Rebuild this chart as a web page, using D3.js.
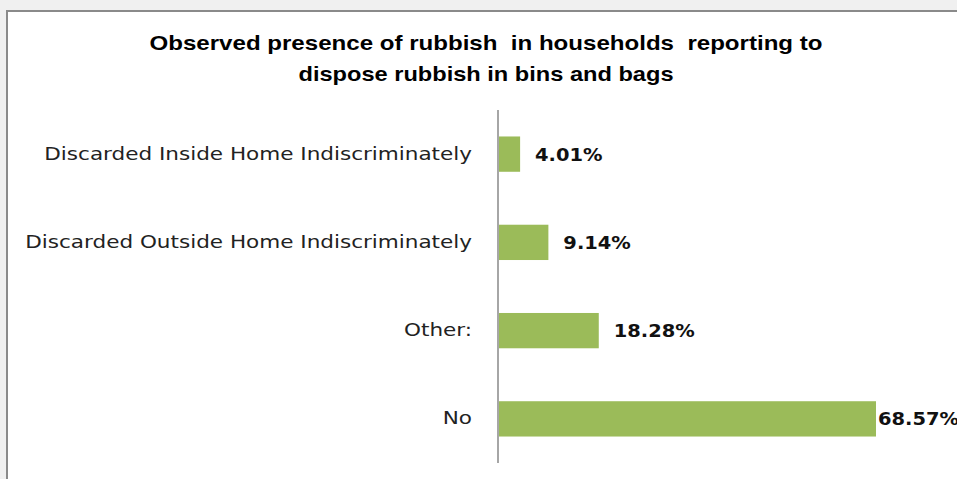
<!DOCTYPE html>
<html>
<head>
<meta charset="utf-8">
<script src="https://cdn.jsdelivr.net/npm/d3@7"></script>
<style>
  html, body { margin: 0; padding: 0; background: #f0f0f0; overflow: hidden; }
  svg { display: block; }
</style>
</head>
<body>
<svg id="chart" width="957" height="479"></svg>
<script>
// Categories, top to bottom, and their shares (%)
const categories = [
  "Discarded Inside Home Indiscriminately",
  "Discarded Outside Home Indiscriminately",
  "Other:",
  "No"
];
const values = [4.01, 9.14, 18.28, 68.57];
const valueLabels = ["4.01%", "9.14%", "18.28%", "68.57%"];
const titleLines = [
  "Observed presence of rubbish  in households  reporting to",
  "dispose rubbish in bins and bags"
];

const W = 957, H = 479;
const svg = d3.select("#chart");

// widen text horizontally by factor k
function widen(sel, k) {
  sel.each(function () {
    const w = this.getComputedTextLength();
    d3.select(this).attr("textLength", w * k).attr("lengthAdjust", "spacingAndGlyphs");
  });
}

// chart area: white panel with grey frame on top and left
svg.append("rect").attr("x", 7).attr("y", 11).attr("width", W).attr("height", H)
  .attr("fill", "#ffffff");
svg.append("line").attr("x1", 6).attr("x2", W).attr("y1", 11).attr("y2", 11)
  .attr("stroke", "#8a8a8a").attr("stroke-width", 2);
svg.append("line").attr("x1", 7).attr("x2", 7).attr("y1", 10).attr("y2", H)
  .attr("stroke", "#8a8a8a").attr("stroke-width", 2);

// title
const titleW = [673, 375];
svg.append("g").selectAll("text").data(titleLines).join("text")
  .attr("x", 486).attr("y", (d, i) => 50 + i * 31)
  .attr("text-anchor", "middle")
  .attr("font-family", "'Liberation Sans', Arial, sans-serif")
  .attr("font-weight", "bold").attr("font-size", 21)
  .attr("fill", "#000")
  .attr("textLength", (d, i) => titleW[i]).attr("lengthAdjust", "spacingAndGlyphs")
  .style("white-space", "pre")
  .text(d => d);

// scales
const x = d3.scaleLinear().domain([0, d3.max(values)]).range([498, 876]);
const y = d3.scaleBand().domain(categories).range([110, 463])
  .paddingInner(0.6).paddingOuter(0.3);

// bars
svg.append("g").selectAll("rect").data(values).join("rect")
  .attr("x", x(0))
  .attr("y", (d, i) => y(categories[i]))
  .attr("width", d => x(d) - x(0))
  .attr("height", y.bandwidth())
  .attr("fill", "#9bbb59");

// category axis
const yAxis = d3.axisLeft(y).tickSize(0).tickPadding(26);
const ag = svg.append("g").attr("transform", `translate(${x(0)},0)`).call(yAxis);
ag.select(".domain").attr("stroke", "#a6a6a6").attr("stroke-width", 2)
  .attr("d", `M0,110V463`);
ag.selectAll(".tick text")
  .attr("font-family", "'DejaVu Sans', Verdana, sans-serif")
  .attr("font-size", 17.5).attr("fill", "#222")
  .call(widen, 1.23);

// value labels, outside the bar end; pulled in when they would run off the edge
const labK = 1.08;
const lab = svg.append("g").selectAll("text").data(values).join("text")
  .attr("y", (d, i) => y(categories[i]) + y.bandwidth() / 2)
  .attr("dy", "0.36em")
  .attr("font-family", "'DejaVu Sans', Verdana, sans-serif")
  .attr("font-weight", "bold").attr("font-size", 18)
  .attr("fill", "#111")
  .text((d, i) => valueLabels[i]);
lab.attr("x", function (d) {
  const w = this.getComputedTextLength() * labK;
  return x(d) + 15 + w > W ? x(d) + 2 : x(d) + 15;
});
lab.call(widen, labK);
</script>
</body>
</html>
